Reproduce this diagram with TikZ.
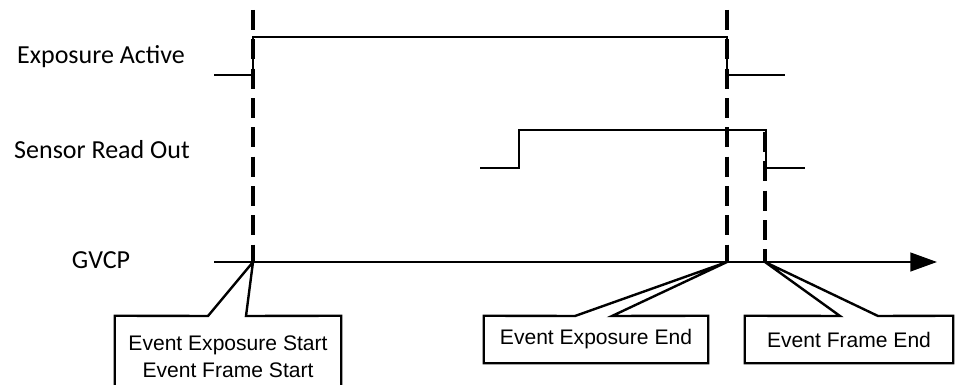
\documentclass[tikz,border=0pt]{standalone}
\usepackage{fontspec}
\newfontfamily\lblfont{Carlito}
\newfontfamily\boxfont{Liberation Sans}
\usetikzlibrary{arrows.meta,positioning,calc}
\tikzset{
  lbl/.style={font=\lblfont\fontsize{19.5}{23}\selectfont,inner sep=0pt,anchor=base},
  cbox/.style={font=\boxfont\fontsize{15.8}{20.25}\selectfont,align=center,inner sep=0pt},
  sigline/.style={line width=1.8pt,line join=miter},
  dashln/.style={line width=2.7pt,dash pattern=on 15pt off 7pt},
  callout/.style={line width=1.8pt,line join=miter},
  axisln/.style={line width=1.8pt,-{Triangle[length=20pt,width=14pt]}},
}
\begin{document}
\begin{tikzpicture}[x=0.75pt,y=-0.75pt]
\useasboundingbox (0,0) rectangle (963,385);
\clip (0,0) rectangle (963,385);
% --- signal names ---
\node[lbl] (lexp) at (101,64) {Exposure Active};
\node[lbl] (lsen) at (102,158) {Sensor Read Out};
\node[lbl] (lgv) at (101,268) {GVCP};
% --- time points on the GVCP axis ---
\coordinate (gv0) at (214,262);
\coordinate (gv1) at (937,262);
\coordinate (tstart) at (253,262);
\coordinate (texpend) at (727,262);
\coordinate (tfrend) at (765,262);
% --- dashed markers ---
\draw[dashln] (253,10) -- (tstart);
\draw[dashln] (727,10) -- (texpend);
\draw[dashln] (765,132) -- (tfrend);
% --- waveforms ---
\draw[sigline] (214,75) -- (253,75) -- (253,37) -- (727,37) -- (727,75) -- (785,75);
\draw[sigline] (480,168) -- (519,168) -- (519,130) -- (766,130) -- (766,168) -- (805,168);
\draw[axisln] (gv0) -- (gv1);
% --- event callouts ---
\node[cbox,minimum width=169.5pt,minimum height=61.5pt] (ev1) at (228,357)
 {Event Exposure Start\\Event Frame Start};
\node[cbox,minimum width=168pt,minimum height=35.25pt] (ev2) at (596,339.5)
 {Event Exposure End};
\node[cbox,minimum width=156pt,minimum height=35.25pt] (ev3) at (849,339.5)
 {Event Frame End};
\draw[callout] (ev1.north west) -- (208,316) -- (tstart) -- (246,316) -- (ev1.north east)
  -- (ev1.south east) -- (ev1.south west) -- cycle;
\draw[callout] (ev2.north west) -- (575,316) -- (texpend) -- (612,316) -- (ev2.north east)
  -- (ev2.south east) -- (ev2.south west) -- cycle;
\draw[callout] (ev3.north west) -- (840,316) -- (tfrend) -- (878,316) -- (ev3.north east)
  -- (ev3.south east) -- (ev3.south west) -- cycle;
\end{tikzpicture}
\end{document}
